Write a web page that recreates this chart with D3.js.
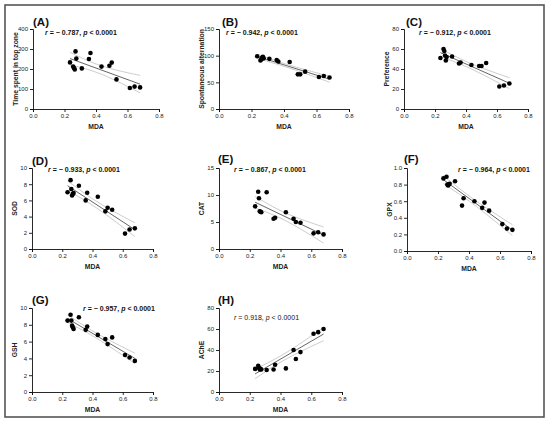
<!DOCTYPE html>
<html>
<head>
<meta charset="utf-8">
<script src="https://cdn.jsdelivr.net/npm/d3@7"></script>
<style>
  body { margin: 0; background: #fff; }
  svg { display: block; font-family: "Liberation Sans", Arial, sans-serif; }
</style>
</head>
<body>
<svg width="550" height="422"></svg>
<script>
// Data (16 animals, MDA on x for every panel)
const mda = [0.235, 0.255, 0.26, 0.265, 0.27, 0.275, 0.31, 0.355, 0.365, 0.435, 0.485, 0.50, 0.53, 0.615, 0.645, 0.68];
const timeTopZone = [233, 212, 205, 198, 288, 252, 203, 250, 280, 212, 216, 232, 148, 105, 112, 108];
const spontAlt = [99, 91, 93, 96, 98, 95, 94, 92, 89, 88, 65, 65, 70, 60, 62, 59];
const preference = [51, 60, 58, 53.5, 48.5, 52, 52.5, 45.5, 46.5, 44, 43, 43, 46, 22.5, 23.5, 25.5];
const sod = [7.0, 8.5, 7.4, 6.6, 6.8, 6.9, 7.8, 6.0, 6.95, 6.45, 4.65, 5.1, 4.85, 1.9, 2.4, 2.55];
const cat = [7.9, 10.6, 9.4, 7.0, 6.9, 6.8, 10.5, 5.6, 5.8, 6.8, 5.6, 5.0, 4.85, 2.9, 3.1, 2.7];
const gpx = [0.875, 0.895, 0.80, 0.79, 0.80, 0.81, 0.84, 0.547, 0.636, 0.60, 0.52, 0.583, 0.486, 0.324, 0.27, 0.255];
const gsh = [8.5, 9.2, 8.5, 7.9, 7.7, 7.5, 8.9, 7.4, 7.8, 6.8, 6.3, 5.7, 6.5, 4.4, 4.1, 3.7];
const ache = [22, 25, 23, 21.5, 22, 21.5, 21, 21.5, 26, 22.5, 40, 31.5, 38, 55.5, 57, 60];

const panelLetters = ["(A)", "(B)", "(C)", "(D)", "(E)", "(F)", "(G)", "(H)"];
const yTitles = ["Time spent in top zone", "Spontaneous alternation", "Preference", "SOD", "CAT", "GPX", "GSH", "AChE"];
const rTexts = ["− 0.787", "− 0.942", "− 0.912", "− 0.933", "− 0.867", "− 0.964", "− 0.957", "0.918"];
const pText = "< 0.0001";
const xTicks = [0, 0.2, 0.4, 0.6, 0.8];
const yTickSets = [
  [0, 100, 200, 300, 400],
  [0, 50, 100, 150],
  [0, 20, 40, 60, 80],
  [0, 2, 4, 6, 8, 10],
  [0, 5, 10, 15],
  [0, 0.2, 0.4, 0.6, 0.8, 1.0],
  [0, 2, 4, 6, 8, 10],
  [0, 20, 40, 60, 80]
];
const seriesList = [timeTopZone, spontAlt, preference, sod, cat, gpx, gsh, ache];

// Layout of each panel (pixels)
const layout = [
  { x0: 33,  x1: 159, top: 29,  bottom: 109, statDx: 12, statY: 32.3,  letterDx: 0, letterY: 22, bold: true },
  { x0: 219, x1: 349, top: 29,  bottom: 109, statDx: 7,  statY: 32.3,  letterDx: 3, letterY: 22, bold: true },
  { x0: 404, x1: 528, top: 29,  bottom: 109, statDx: 15, statY: 32.3,  letterDx: 2, letterY: 22, bold: true },
  { x0: 32,  x1: 153, top: 168, bottom: 249, statDx: 16, statY: 169.7, letterDx: 0, letterY: 161, bold: true },
  { x0: 219, x1: 342, top: 168, bottom: 249, statDx: 15, statY: 170,   letterDx: -1, letterY: 159, bold: true },
  { x0: 407, x1: 531, top: 168, bottom: 251, statDx: 51, statY: 169.3, letterDx: -3, letterY: 159, bold: true },
  { x0: 32,  x1: 153, top: 308, bottom: 392, statDx: 51, statY: 308.3, letterDx: 0, letterY: 300, bold: true },
  { x0: 219, x1: 342, top: 308, bottom: 392, statDx: 15, statY: 317.3, letterDx: -1, letterY: 300, bold: false }
];

const svg = d3.select("svg");

// outer frame
svg.append("rect")
  .attr("x", 5).attr("y", 5)
  .attr("width", 539).attr("height", 412)
  .attr("fill", "none")
  .attr("stroke", "#555")
  .attr("stroke-width", 1.6);

const T_CRIT = 2.145; // t(0.975, df = 14)

function fitLine(xs, ys) {
  const n = xs.length;
  const mx = d3.mean(xs), my = d3.mean(ys);
  let sxx = 0, sxy = 0;
  xs.forEach((x, i) => { sxx += (x - mx) ** 2; sxy += (x - mx) * (ys[i] - my); });
  const b = sxy / sxx, a = my - b * mx;
  let sse = 0;
  xs.forEach((x, i) => { sse += (ys[i] - (a + b * x)) ** 2; });
  const s = Math.sqrt(sse / (n - 2));
  return { a, b, s, n, mx, sxx };
}

layout.forEach((L, i) => {
  const ys = seriesList[i];
  const yTicks = yTickSets[i];
  const x = d3.scaleLinear().domain([0, 0.8]).range([L.x0, L.x1]);
  const y = d3.scaleLinear().domain([0, d3.max(yTicks)]).range([L.bottom, L.top]);
  const g = svg.append("g");

  // axes
  const xAxis = g.append("g")
    .attr("transform", `translate(0,${L.bottom})`)
    .call(d3.axisBottom(x).tickValues(xTicks).tickFormat(d3.format(".1f")).tickSize(3).tickPadding(2));
  const yFmt = i === 5 ? d3.format(".1f") : d3.format("d");
  const yAxis = g.append("g")
    .attr("transform", `translate(${L.x0},0)`)
    .call(d3.axisLeft(y).tickValues(yTicks).tickFormat(yFmt).tickSize(3).tickPadding(2));
  [xAxis, yAxis].forEach(ax => {
    ax.select(".domain").attr("stroke", "#111").attr("stroke-width", 0.9);
    ax.selectAll(".tick line").attr("stroke", "#111").attr("stroke-width", 0.9);
    ax.selectAll("text").attr("font-size", 6).attr("fill", "#222")
      .attr("font-family", "Liberation Sans, Arial, sans-serif");
  });

  // regression + 95% band
  const fit = fitLine(mda, ys);
  const xMin = d3.min(mda), xMax = d3.max(mda);
  const grid = d3.range(0, 41).map(k => xMin + (xMax - xMin) * k / 40);
  const band = sign => grid.map(xv => {
    const yh = fit.a + fit.b * xv;
    const se = fit.s * Math.sqrt(1 / fit.n + (xv - fit.mx) ** 2 / fit.sxx);
    return [x(xv), y(yh + sign * T_CRIT * se)];
  });
  const line = d3.line();
  [-1, 1].forEach(sg => {
    g.append("path").attr("d", line(band(sg)))
      .attr("fill", "none").attr("stroke", "#b5b5b5").attr("stroke-width", 0.7);
  });
  g.append("path")
    .attr("d", line([[x(xMin), y(fit.a + fit.b * xMin)], [x(xMax), y(fit.a + fit.b * xMax)]]))
    .attr("fill", "none").attr("stroke", "#555").attr("stroke-width", 0.9);

  // points
  g.selectAll("circle")
    .data(mda.map((m, k) => [m, ys[k]]))
    .join("circle")
    .attr("cx", d => x(d[0]))
    .attr("cy", d => y(d[1]))
    .attr("r", 2.3)
    .attr("fill", "#000");

  // panel letter
  g.append("text")
    .attr("x", L.x0 + L.letterDx)
    .attr("y", L.letterY + 4)
    .attr("font-size", 11.5)
    .attr("font-weight", "bold")
    .attr("fill", "#111")
    .text(panelLetters[i]);

  // statistics
  const st = g.append("text")
    .attr("x", L.x0 + L.statDx)
    .attr("y", L.statY + 2.4)
    .attr("font-size", 7)
    .attr("font-weight", L.bold ? "bold" : "normal")
    .attr("fill", "#111");
  st.append("tspan").attr("font-style", "italic").text("r");
  st.append("tspan").text(` = ${rTexts[i]}, `);
  st.append("tspan").attr("font-style", "italic").text("p");
  st.append("tspan").text(` ${pText}`);

  // axis titles
  g.append("text")
    .attr("transform", `translate(${L.x0 - 17},${(L.top + L.bottom) / 2}) rotate(-90)`)
    .attr("text-anchor", "middle")
    .attr("dy", "0.35em")
    .attr("font-size", 6.8)
    .attr("font-weight", "bold")
    .attr("fill", "#222")
    .text(yTitles[i]);
  g.append("text")
    .attr("x", (L.x0 + L.x1) / 2)
    .attr("y", L.bottom + 18)
    .attr("dy", "0.35em")
    .attr("text-anchor", "middle")
    .attr("font-size", 6.8)
    .attr("font-weight", "bold")
    .attr("fill", "#222")
    .text("MDA");
});
</script>
</body>
</html>
